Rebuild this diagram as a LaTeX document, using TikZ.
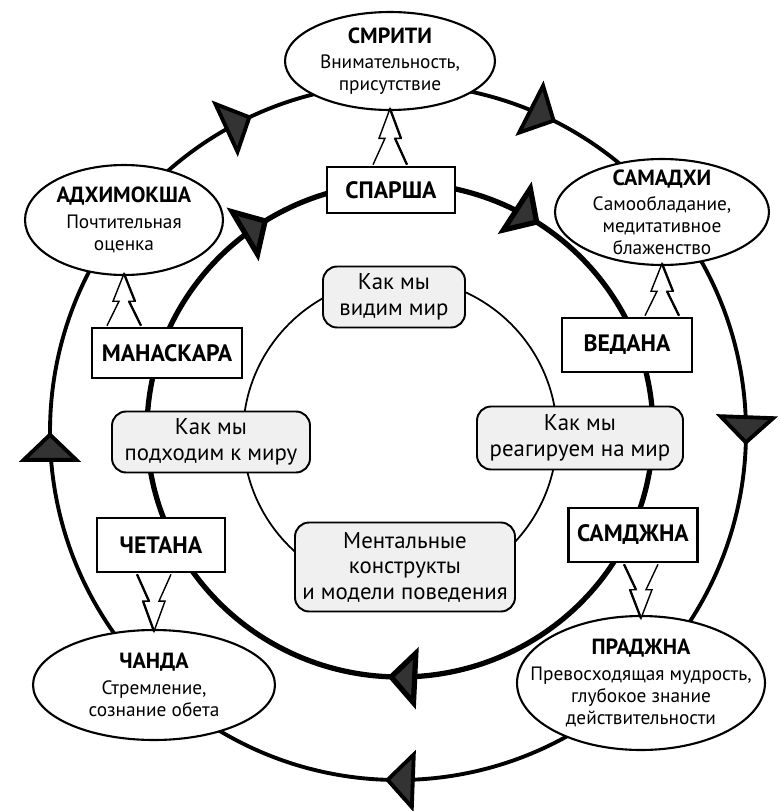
\documentclass[tikz,border=0pt]{standalone}
\usepackage{fontspec}
\setmainfont{PT Sans}
\usetikzlibrary{shapes.geometric,arrows.meta,decorations.markings}
\tikzset{
    flowtip/.tip={Triangle[width=35pt,length=17pt,fill=black!80]},
    outerring/.style={line width=2.2pt, postaction={decorate}, decoration={markings,
        mark=at position 0.075 with {\arrow{flowtip}},
        mark=at position 0.256 with {\arrow{flowtip}},
        mark=at position 0.506 with {\arrow{flowtip}},
        mark=at position 0.75 with {\arrow{flowtip}},
        mark=at position 0.931 with {\arrow{flowtip}}}},
    innerring/.style={line width=3pt, postaction={decorate}, decoration={markings,
        mark=at position 0.094 with {\arrow{flowtip}},
        mark=at position 0.508 with {\arrow{flowtip}},
        mark=at position 0.912 with {\arrow{flowtip}}}},
    goal/.style={ellipse, draw, line width=1.2pt, fill=white, inner sep=0pt},
    goaltext/.style={align=center, font=\fontsize{11}{12.5}\selectfont},
    stage/.style={draw, line width=1.5pt, fill=white, inner sep=0pt,
        font=\fontsize{13.5}{16}\selectfont\bfseries},
    view/.style={draw, rounded corners=8pt, line width=1.1pt, fill=black!6,
        inner sep=0pt, align=center, font=\fontsize{13}{14.5}\selectfont},
    pinearrow/.pic={
        \filldraw[fill=white, line width=0.8pt] (-17,-1) -- (-5,{-0.48*#1}) -- (-11,{-0.48*#1})
            -- (0,-#1) -- (11,{-0.48*#1}) -- (5,{-0.48*#1}) -- (17,-1);
        \draw[line width=1.3pt] (0,-#1) -- (11,{-0.48*#1}) (5,{-0.48*#1}) -- (17,-1);
    }
}
\begin{document}
\begin{tikzpicture}[x=0.02cm, y=-0.02cm]
    \useasboundingbox (0,0) rectangle (780,811);
    \draw[outerring] (398,432) ++(-90:348) arc[start angle=-90, end angle=270, radius=348];
    \draw[innerring] (400,430) ++(-90:247) arc[start angle=-90, end angle=270, x radius=253, y radius=247];
    \draw[line width=1pt] (400,435) circle[radius=157];

    \node[goal, minimum width=4.2cm, minimum height=1.96cm, label={[goaltext]center:{{\bfseries\fontsize{12.5}{14}\selectfont СМРИТИ}\\[2pt]Внимательность,\\присутствие}}] (smriti) at (390,61) {};
    \node[goal, minimum width=3.96cm, minimum height=2.2cm, label={[goaltext]center:{{\bfseries\fontsize{12.5}{14}\selectfont АДХИМОКША}\\[2pt]Почтительная\\оценка}}] (adhimoksha) at (124,220) {};
    \node[goal, minimum width=4.28cm, minimum height=2.12cm, label={[goaltext]center:{{\bfseries\fontsize{12.5}{14}\selectfont САМАДХИ}\\[2pt]Самообладание,\\медитативное\\блаженство}}] (samadhi) at (662,212) {};
    \node[goal, minimum width=4.84cm, minimum height=2.2cm, label={[goaltext]center:{{\bfseries\fontsize{12.5}{14}\selectfont ЧАНДА}\\[2pt]Стремление,\\сознание обета}}] (chanda) at (154,685) {};
    \node[goal, minimum width=4.96cm, minimum height=2.68cm, label={[goaltext]center:{{\bfseries\fontsize{12.5}{14}\selectfont ПРАДЖНА}\\[2pt]Превосходящая мудрость,\\глубокое знание\\действительности}}] (prajna) at (641,683) {};

    \node[stage, minimum width=2.56cm, minimum height=0.92cm] (sparsha) at (391,190) {СПАРША};
    \node[stage, minimum width=3cm, minimum height=1cm] (manaskara) at (167,353) {МАНАСКАРА};
    \node[stage, minimum width=2.6cm, minimum height=1.08cm] (vedana) at (627,345) {ВЕДАНА};
    \node[stage, minimum width=2.56cm, minimum height=1.08cm] (chetana) at (161,545) {ЧЕТАНА};
    \node[stage, minimum width=2.58cm, minimum height=1.08cm] (samjna) at (633,535) {САМДЖНА};

    \node[view, minimum width=2.84cm, minimum height=1.22cm] (see) at (394,297) {Как мы\\видим мир};
    \node[view, minimum width=3.96cm, minimum height=1.22cm] (approach) at (211,442) {Как мы\\подходим к миру};
    \node[view, minimum width=4.12cm, minimum height=1.26cm] (react) at (580,438) {Как мы\\реагируем на мир};
    \node[view, minimum width=4.4cm, minimum height=1.78cm] (constructs) at (405,567) {Ментальные\\конструкты\\и модели поведения};

    \pic at (smriti.south |- sparsha.north) {pinearrow=57};
    \pic at (adhimoksha.south |- manaskara.north) {pinearrow=53};
    \pic at (samadhi.south |- vedana.north) {pinearrow=53};
    \pic[rotate=180] at (chanda.north |- chetana.south) {pinearrow=58};
    \pic[rotate=180] at (prajna.north |- samjna.south) {pinearrow=55};
\end{tikzpicture}
\end{document}
